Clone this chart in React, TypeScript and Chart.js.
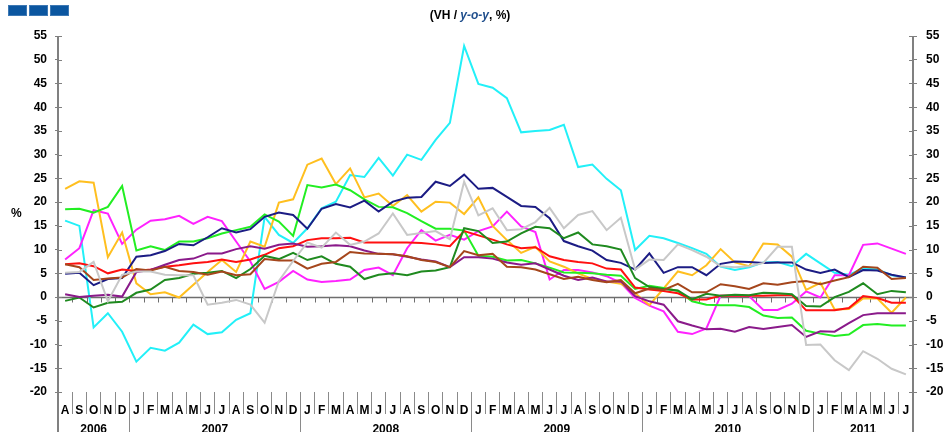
import React, { useEffect, useRef } from "react";
import { Chart, registerables } from "chart.js";

Chart.register(...registerables);

// ---------- DATA ----------
const YEAR_MONTHS = ["J", "F", "M", "A", "M", "J", "J", "A", "S", "O", "N", "D"];
const monthLabels: string[] = [
  "A", "S", "O", "N", "D",
  ...YEAR_MONTHS, ...YEAR_MONTHS, ...YEAR_MONTHS, ...YEAR_MONTHS,
  "J", "F", "M", "A", "M", "J", "J",
];
const yearLabels = ["2006", "2007", "2008", "2009", "2010", "2011"];
const yearFirstIndex = [0, 5, 17, 29, 41, 53];
const yearLastIndex = [4, 16, 28, 40, 52, 59];
const yTickMin = -20;
const yTickMax = 55;
const yTickStep = 5;

const navy = [4.9, 5.1, 2.5, 3.8, 4.0, 8.5, 8.8, 9.7, 11.2, 10.9, 12.6, 14.5, 13.6, 14.3, 16.9, 17.8, 17.3, 14.4, 18.6, 19.6, 18.9, 20.3, 18.0, 20.1, 20.9, 21.1, 24.3, 23.4, 25.8, 22.8, 23.0, 21.1, 19.2, 19.0, 16.6, 11.8, 10.7, 9.8, 7.8, 7.2, 5.8, 9.2, 5.1, 6.3, 6.3, 4.6, 7.0, 7.5, 7.4, 7.2, 7.3, 7.3, 5.8, 5.1, 5.8, 4.2, 5.7, 5.6, 4.7, 4.1];
const cyan = [16.1, 15.0, -6.4, -3.4, -7.3, -13.6, -10.7, -11.3, -9.6, -5.8, -7.8, -7.4, -4.8, -3.4, 16.9, 13.1, 11.4, 14.5, 18.7, 20.1, 25.7, 25.3, 29.3, 25.6, 30.0, 28.9, 33.1, 36.7, 52.9, 44.9, 44.1, 41.9, 34.7, 35.0, 35.2, 36.3, 27.4, 27.9, 24.9, 22.5, 9.9, 12.9, 12.4, 11.4, 10.3, 9.1, 6.4, 5.7, 6.3, 7.3, 7.4, 6.5, 9.1, 7.1, 5.1, 4.7, 6.0, 5.8, 4.6, 4.1];
const yellow = [22.8, 24.4, 24.1, 8.4, 13.6, 2.9, 0.6, 1.0, -0.1, 2.6, 5.3, 7.8, 5.3, 11.7, 10.6, 19.9, 20.6, 27.9, 29.2, 23.8, 27.1, 21.0, 21.8, 19.2, 21.5, 18.0, 20.1, 19.9, 17.5, 21.0, 15.0, 12.0, 9.3, 10.6, 7.5, 6.4, 5.0, 3.8, 3.3, 2.8, 0.8, -1.7, 1.8, 5.4, 4.6, 6.7, 10.1, 7.3, 6.5, 11.3, 11.1, 8.5, 1.5, 3.0, -2.6, -2.5, -0.3, -0.3, -3.3, -0.1];
const lime = [18.5, 18.6, 17.8, 19.0, 23.4, 9.8, 10.7, 9.9, 11.7, 11.7, 12.4, 13.4, 14.1, 14.8, 17.4, 15.9, 12.9, 23.6, 23.1, 23.7, 22.5, 20.6, 19.0, 18.9, 17.7, 16.0, 14.4, 14.4, 14.0, 8.7, 8.5, 7.7, 7.8, 7.1, 6.2, 5.2, 5.1, 5.0, 4.7, 4.5, 1.7, 2.4, 1.9, 1.3, -0.9, -1.6, -1.7, -1.7, -2.1, -3.9, -4.4, -4.3, -7.1, -7.7, -8.2, -7.9, -5.9, -5.7, -6.0, -6.0];
const magenta = [7.9, 10.3, 18.3, 17.6, 11.2, 14.2, 16.1, 16.4, 17.1, 15.4, 16.9, 16.0, 11.7, 7.5, 1.7, 3.2, 5.5, 3.7, 3.2, 3.4, 3.7, 5.7, 6.2, 4.6, 10.3, 14.1, 11.9, 13.1, 12.1, 13.9, 14.9, 18.0, 14.9, 13.7, 3.7, 5.7, 5.7, 5.2, 4.4, 3.0, -0.2, -1.8, -3.0, -7.3, -7.8, -6.6, 0.3, 0.3, 0.2, -2.7, -2.7, -1.4, 1.2, -0.1, 4.6, 4.6, 11.0, 11.3, 10.2, 9.1];
const darkGreen = [-0.8, -0.1, -2.2, -1.2, -1.0, 0.9, 1.6, 3.6, 4.0, 4.9, 5.1, 5.5, 4.0, 5.9, 8.7, 8.0, 9.3, 7.8, 8.6, 7.0, 6.4, 3.8, 4.7, 5.0, 4.6, 5.4, 5.6, 6.3, 14.5, 13.9, 11.4, 11.7, 13.4, 14.8, 14.5, 12.4, 13.6, 11.1, 10.7, 10.0, 4.0, 2.1, 1.7, 1.4, -0.5, 0.7, 0.3, 0.5, 0.4, 0.9, 0.8, 0.6, -1.9, -2.0, 0.0, 1.1, 2.9, 0.6, 1.3, 1.0];
const red = [6.9, 7.1, 6.5, 5.0, 5.8, 5.5, 5.8, 6.4, 6.7, 7.1, 7.4, 7.9, 7.4, 7.9, 8.9, 10.3, 10.7, 12.0, 12.4, 12.4, 12.5, 11.5, 11.5, 11.5, 11.5, 11.4, 11.1, 10.7, 13.9, 13.0, 12.1, 11.1, 10.3, 10.5, 8.6, 7.8, 7.4, 7.1, 6.0, 5.8, 2.0, 1.6, 1.3, 0.8, -0.5, -0.5, 0.3, 0.3, 0.3, 0.3, 0.4, 0.4, -2.8, -2.8, -2.8, -2.3, 0.2, -0.2, -1.2, -1.2];
const brown = [6.9, 6.3, 3.6, 3.9, 4.1, 5.9, 5.6, 6.4, 5.5, 5.3, 4.7, 5.4, 4.6, 4.8, 8.0, 7.7, 7.7, 6.0, 7.0, 7.4, 9.5, 9.2, 9.1, 9.0, 8.6, 7.8, 7.4, 6.3, 9.7, 8.8, 9.1, 6.4, 6.3, 5.8, 4.8, 3.8, 4.3, 3.6, 3.1, 3.6, 0.8, 1.8, 1.5, 2.8, 1.0, 1.0, 2.7, 2.3, 1.7, 2.9, 2.6, 3.1, 3.4, 2.7, 3.5, 4.2, 6.4, 6.2, 3.8, 4.0];
const purple = [0.6, 0.0, 0.3, 0.5, 0.1, 5.3, 5.7, 6.8, 7.8, 8.1, 9.2, 9.2, 10.1, 10.7, 10.2, 11.0, 11.3, 10.6, 10.7, 10.9, 10.7, 9.8, 9.1, 9.0, 8.5, 7.9, 7.5, 6.3, 8.4, 8.4, 8.1, 7.3, 6.8, 7.1, 5.8, 4.5, 3.6, 4.1, 3.3, 3.3, 0.2, -0.9, -1.6, -5.1, -6.0, -6.8, -6.7, -7.3, -6.3, -6.7, -6.3, -5.9, -8.4, -7.2, -7.3, -5.5, -3.8, -3.4, -3.4, -3.4];
const gray = [5.1, 5.3, 7.4, -0.9, 4.7, 5.4, 5.4, 4.7, 4.6, 4.6, -1.6, -1.2, -0.6, -1.6, -5.4, 3.4, 7.6, 11.5, 10.4, 13.6, 11.0, 11.7, 13.4, 17.6, 13.1, 13.5, 13.9, 12.2, 24.3, 17.2, 18.7, 14.1, 14.3, 15.8, 18.8, 14.5, 17.3, 18.1, 14.1, 16.7, 5.8, 7.9, 7.8, 11.1, 9.9, 8.5, 6.5, 6.3, 6.5, 7.2, 10.6, 10.6, -10.1, -10.0, -13.3, -15.4, -11.4, -13.0, -15.1, -16.3];

const seriesList = [
  { name: "gray", data: gray, color: "#c8c8c8" },
  { name: "brown", data: brown, color: "#a5461c" },
  { name: "purple", data: purple, color: "#8a1a8a" },
  { name: "darkGreen", data: darkGreen, color: "#1f8a1f" },
  { name: "red", data: red, color: "#ff1010" },
  { name: "navy", data: navy, color: "#1c1c84" },
  { name: "lime", data: lime, color: "#22ee22" },
  { name: "yellow", data: yellow, color: "#ffbf1f" },
  { name: "magenta", data: magenta, color: "#ff22ff" },
  { name: "cyan", data: cyan, color: "#22f0f8" },
];

// ---------- helpers ----------
const yearBoundaries: number[] = [yearFirstIndex[0] - 0.5, ...yearLastIndex.map((v) => v + 0.5)];
const yearCenters: number[] = yearFirstIndex.map((f, k) => (f + yearLastIndex[k]) / 2);
const yearAxisTicks: number[] = [...yearBoundaries, ...yearCenters].sort((a, b) => a - b);
const isBoundary = (v: number) => yearBoundaries.some((b) => Math.abs(b - v) < 1e-6);
const yearLabelFor = (v: number) => {
  const k = yearCenters.findIndex((c) => Math.abs(c - v) < 1e-6);
  return k >= 0 ? yearLabels[k] : "";
};

const FONT = "'Liberation Sans', Arial, sans-serif";
const AXIS_GRAY = "#808080";

const decorPlugin = {
  id: "decor",
  beforeDatasetsDraw(chart: any) {
    const { ctx, chartArea, scales } = chart;
    const ys = scales.y;
    const xs = scales.x;
    const line = (x1: number, y1: number, x2: number, y2: number) => {
      ctx.beginPath();
      ctx.moveTo(x1, y1);
      ctx.lineTo(x2, y2);
      ctx.stroke();
    };
    ctx.save();
    // zero line with category ticks
    const y0 = Math.round(ys.getPixelForValue(0)) + 0.5;
    ctx.strokeStyle = "#6e6e6e";
    ctx.lineWidth = 1.5;
    line(chartArea.left, y0, chartArea.right, y0);
    const step = xs.getPixelForValue(1) - xs.getPixelForValue(0);
    ctx.lineWidth = 1;
    for (let i = 0; i <= monthLabels.length; i++) {
      const px = Math.round(xs.getPixelForValue(0) - step / 2 + i * step) + 0.5;
      line(px, y0, px, y0 + 5);
    }
    // axis lines reaching the bottom
    ctx.strokeStyle = AXIS_GRAY;
    ctx.lineWidth = 2;
    const top = ys.getPixelForValue(yTickMax);
    line(chartArea.left, top, chartArea.left, chart.height);
    line(chartArea.right, top, chartArea.right, chart.height);
    // inward tick stubs
    ctx.lineWidth = 1;
    for (let v = yTickMin; v <= yTickMax; v += yTickStep) {
      const py = Math.round(ys.getPixelForValue(v)) + 0.5;
      line(chartArea.left, py, chartArea.left + 4, py);
      line(chartArea.right - 4, py, chartArea.right, py);
    }
    ctx.restore();
  },
};

export default function App() {
  const canvasRef = useRef<HTMLCanvasElement | null>(null);

  useEffect(() => {
    if (!canvasRef.current) return;
    const tickFont = { family: FONT, size: 12, weight: "bold" as const };
    const chart = new Chart(canvasRef.current, {
      type: "line",
      data: {
        labels: monthLabels,
        datasets: seriesList.map((s) => ({
          label: s.name,
          data: s.data,
          borderColor: s.color,
          backgroundColor: s.color,
          borderWidth: 2,
          pointRadius: 0,
          tension: 0,
          fill: false,
          xAxisID: "x",
          yAxisID: "y",
        })),
      },
      options: {
        responsive: false,
        animation: false,
        devicePixelRatio: 1,
        layout: { padding: { top: 36, left: 0, right: 0, bottom: 0 } },
        plugins: {
          legend: { display: false },
          tooltip: { enabled: false },
          title: { display: false },
        },
        scales: {
          x: {
            type: "category",
            position: "bottom",
            offset: true,
            weight: 0,
            grid: {
              offset: true,
              drawOnChartArea: false,
              drawTicks: true,
              tickLength: 22,
              color: "#8a8a8a",
              lineWidth: 1,
            },
            border: { display: false },
            ticks: {
              autoSkip: false,
              maxRotation: 0,
              minRotation: 0,
              padding: -11,
              color: "#000",
              font: tickFont,
            },
            afterFit: (s: any) => {
              s.height = 22;
            },
          },
          x2: {
            type: "linear",
            position: "bottom",
            weight: 1,
            min: -0.5,
            max: monthLabels.length - 0.5,
            afterBuildTicks: (s: any) => {
              s.ticks = yearAxisTicks.map((v) => ({ value: v }));
            },
            grid: {
              drawOnChartArea: false,
              drawTicks: true,
              tickLength: 18,
              color: (c: any) => (c.tick && isBoundary(c.tick.value) ? "#8a8a8a" : "rgba(0,0,0,0)"),
              lineWidth: 1,
            },
            border: { display: false },
            ticks: {
              autoSkip: false,
              maxRotation: 0,
              minRotation: 0,
              padding: -10,
              color: "#000",
              font: tickFont,
              callback: (v: any) => yearLabelFor(Number(v)),
            },
            afterFit: (s: any) => {
              s.height = 18;
            },
          },
          y: {
            position: "left",
            min: yTickMin,
            max: yTickMax,
            ticks: { stepSize: yTickStep, padding: 8, color: "#000", font: tickFont },
            grid: { drawOnChartArea: false, drawTicks: true, tickLength: 3, color: AXIS_GRAY },
            border: { display: false },
            afterFit: (s: any) => {
              s.width = 58;
            },
          },
          y2: {
            position: "right",
            min: yTickMin,
            max: yTickMax,
            ticks: { stepSize: yTickStep, padding: 9, color: "#000", font: tickFont },
            grid: { drawOnChartArea: false, drawTicks: true, tickLength: 4, color: AXIS_GRAY },
            border: { display: false },
            afterFit: (s: any) => {
              s.width = 32;
            },
          },
        },
      },
      plugins: [decorPlugin],
    });
    return () => chart.destroy();
  }, []);

  const square = (left: number) => (
    <div
      style={{
        position: "absolute",
        left,
        top: 5,
        width: 19,
        height: 11,
        background: "#0b56a0",
        boxShadow: "inset 0 0 0 1px #3d78b4",
      }}
    />
  );

  return (
    <div style={{ position: "absolute", left: 0, top: 0, width: 945, height: 432, background: "#fff", overflow: "hidden" }}>
      <canvas ref={canvasRef} width={945} height={432} style={{ position: "absolute", left: 0, top: 0, width: 945, height: 432 }} />
      {square(8)}
      {square(29)}
      {square(50)}
      <div
        style={{
          position: "absolute",
          left: 0,
          width: 940,
          top: 8,
          textAlign: "center",
          fontFamily: FONT,
          fontWeight: "bold",
          fontSize: 12,
          color: "#000",
          whiteSpace: "pre",
        }}
      >
        (VH / <span style={{ color: "#1f4e8c", fontStyle: "italic" }}>y-o-y</span>, %)
      </div>
      <div
        style={{
          position: "absolute",
          left: 11,
          top: 206,
          fontFamily: FONT,
          fontWeight: "bold",
          fontSize: 12,
          color: "#000",
        }}
      >
        %
      </div>
    </div>
  );
}
